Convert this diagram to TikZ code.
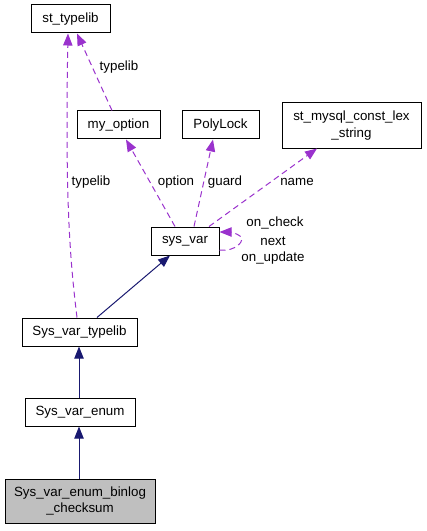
\documentclass[tikz,border=0pt]{standalone}
\usepackage{fontspec}
\setmainfont{Liberation Sans}
\usetikzlibrary{arrows.meta}
\definecolor{dpurple}{HTML}{9A32CD}
\definecolor{dnavy}{HTML}{191970}
\definecolor{dgrey}{HTML}{BFBFBF}
\begin{document}
\begin{tikzpicture}[x=0.75pt,y=-0.75pt,
  cls/.style={draw=black,line width=0.75pt,inner sep=0pt,minimum height=28*0.75pt,align=center,font=\fontsize{10pt}{12.5pt}\selectfont},
  lbl/.style={inner sep=0pt,font=\fontsize{10pt}{12.5pt}\selectfont},
  uses/.style={draw=dpurple,line width=0.75pt,dash pattern=on 4.5pt off 3pt,-{Triangle[length=9pt,width=7pt,fill=dpurple]}},
  inh/.style={draw=dnavy,line width=0.75pt,-{Triangle[length=9pt,width=7pt,fill=dnavy]}}]
\useasboundingbox (0,0) rectangle (427,531);
\node[cls,minimum width=79*0.75pt] (st) at (70.5,19) {st\_typelib};
\node[cls,minimum width=83*0.75pt] (myopt) at (118.5,125) {my\_option};
\node[cls,minimum width=77*0.75pt] (poly) at (220.5,125) {PolyLock};
\node[cls,minimum width=139*0.75pt,minimum height=45*0.75pt] (lex) at (351.5,125.5) {st\_mysql\_const\_lex\\\_string};
\node[cls,minimum width=68*0.75pt] (sv) at (185,241) {sys\_var};
\node[cls,minimum width=115*0.75pt] (svt) at (79.5,332) {Sys\_var\_typelib};
\node[cls,minimum width=110*0.75pt] (sve) at (80,412) {Sys\_var\_enum};
\node[cls,minimum width=150*0.75pt,minimum height=44*0.75pt,fill=dgrey] (svb) at (80,501) {Sys\_var\_enum\_binlog\\\_checksum};
% edges
\draw[uses] (svt.north -| 77,0) .. controls (70,260) and (65,200) .. (st.south -| 68,0);
\draw[uses] (myopt.north -| 112,0) -- (st.south -| 77,0);
\draw[uses] (sv.north -| 175,0) -- (myopt.south -| 126,0);
\draw[uses] (sv.north -| 194,0) -- (poly.south -| 213,0);
\draw[uses] (sv.north -| 209,0) -- (lex.south -| 317,0);
\draw[uses] (sv.east |- 0,250) .. controls (236,252) and (246,240) .. (240,236) .. controls (236,233) and (230,232) .. (sv.east |- 0,232);
\draw[inh] (svt.north -| 97,0) -- (sv.south -| 170,0);
\draw[inh] (sve.north -| 79,0) -- (svt.south -| 79,0);
\draw[inh] (svb.north -| 79,0) -- (sve.south -| 79,0);
% labels
\node[lbl] (l1) at (119,67) {typelib};
\node[lbl] (l2) at (91,182) {typelib};
\node[lbl] (l3) at (176,182) {option};
\node[lbl] (l4) at (225,182) {guard};
\node[lbl] (l5) at (297,182) {name};
\node[lbl] (l6) at (275,223) {on\_check};
\node[lbl] (l7) at (273,241) {next};
\node[lbl] (l8) at (273,258) {on\_update};
\end{tikzpicture}
\end{document}
